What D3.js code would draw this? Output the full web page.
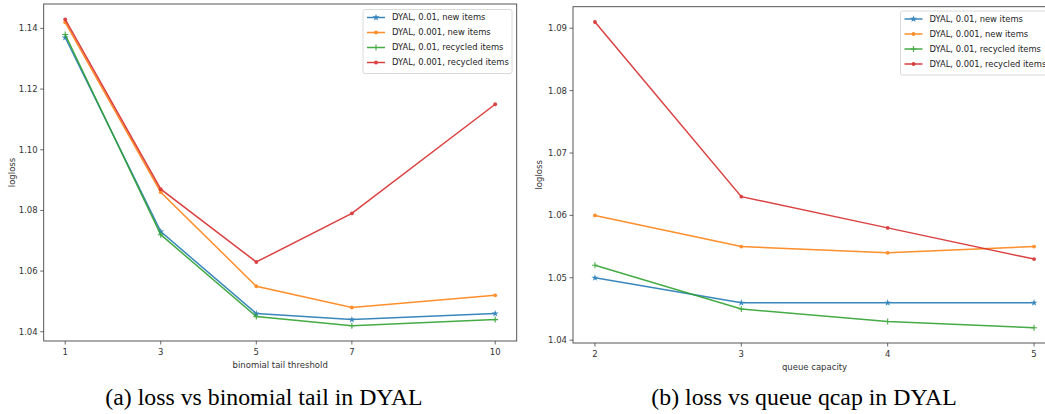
<!DOCTYPE html>
<html lang="en">
<head>
<meta charset="UTF-8">
<title>DYAL loss charts</title>
<script src="https://d3js.org/d3.v7.min.js"></script>
<style>
    body { margin: 0; background: #fff; }
    svg { display: block; }
    .tick-label { font-family: "DejaVu Sans", sans-serif; font-size: 8.5px; fill: #333; }
    .axis-label { font-family: "DejaVu Sans", sans-serif; font-size: 8.5px; fill: #333; }
    .legend-text { font-family: "DejaVu Sans", sans-serif; font-size: 8.4px; fill: #222; }
    .caption { font-family: "Liberation Serif", "Times New Roman", serif; font-size: 23.8px; fill: #000; }
</style>
</head>
<body>
<svg width="1045" height="414"></svg>
<script>
// series names and colours (matplotlib defaults)
const seriesNames = ["DYAL, 0.01, new items", "DYAL, 0.001, new items", "DYAL, 0.01, recycled items", "DYAL, 0.001, recycled items"];
const seriesColors = ["#1f77b4", "#ff7f0e", "#2ca02c", "#d62728"];
const seriesMarkers = ["star", "dot", "plus", "dot"];

// (a) binomial tail threshold
const tailX = [1, 3, 5, 7, 10];
const tailNew001 = [1.137, 1.073, 1.046, 1.044, 1.046];
const tailNew0001 = [1.142, 1.086, 1.055, 1.048, 1.052];
const tailRec001 = [1.138, 1.072, 1.045, 1.042, 1.044];
const tailRec0001 = [1.143, 1.087, 1.063, 1.079, 1.115];
const tailYTicks = [1.04, 1.06, 1.08, 1.10, 1.12, 1.14];

// (b) queue capacity
const qcapX = [2, 3, 4, 5];
const qcapNew001 = [1.050, 1.046, 1.046, 1.046];
const qcapNew0001 = [1.060, 1.055, 1.054, 1.055];
const qcapRec001 = [1.052, 1.045, 1.043, 1.042];
const qcapRec0001 = [1.091, 1.063, 1.058, 1.053];
const qcapYTicks = [1.04, 1.05, 1.06, 1.07, 1.08, 1.09];

const svg = d3.select("svg");

function drawMarker(g, type, color) {
    if (type === "star") {
        g.append("path")
            .attr("d", d3.symbol().type(d3.symbolStar).size(15)())
            .attr("fill", color);
    } else if (type === "plus") {
        g.append("path")
            .attr("d", "M-3,0H3M0,-3V3")
            .attr("stroke", color)
            .attr("stroke-width", 1.1);
    } else {
        g.append("circle").attr("r", 1.9).attr("fill", color);
    }
}

function drawPanel(opt) {
    const x = d3.scaleLinear().domain(opt.xDomain).range([opt.left, opt.right]);
    const y = d3.scaleLinear().domain(opt.yDomain).range([opt.bottom, opt.top]);
    const g = svg.append("g");

    // y ticks
    opt.yTicks.forEach(v => {
        g.append("line")
            .attr("x1", opt.left - 3.5).attr("x2", opt.left)
            .attr("y1", y(v)).attr("y2", y(v))
            .attr("stroke", "#444").attr("stroke-width", 0.8);
        g.append("text")
            .attr("class", "tick-label")
            .attr("x", opt.left - 6).attr("y", y(v))
            .attr("dy", "0.35em")
            .attr("text-anchor", "end")
            .text(v.toFixed(2));
    });

    // x ticks
    opt.xTicks.forEach(v => {
        g.append("line")
            .attr("x1", x(v)).attr("x2", x(v))
            .attr("y1", opt.bottom).attr("y2", opt.bottom + 3.5)
            .attr("stroke", "#444").attr("stroke-width", 0.8);
        g.append("text")
            .attr("class", "tick-label")
            .attr("x", x(v)).attr("y", opt.bottom + 14)
            .attr("text-anchor", "middle")
            .text(v);
    });

    // series lines and markers
    const line = d3.line().x(d => x(d[0])).y(d => y(d[1]));
    opt.series.forEach((vals, i) => {
        const pts = opt.xs.map((xv, j) => [xv, vals[j]]);
        const sg = g.append("g").attr("opacity", 0.88);
        sg.append("path")
            .datum(pts)
            .attr("d", line)
            .attr("fill", "none")
            .attr("stroke", seriesColors[i])
            .attr("stroke-width", 1.5);
        pts.forEach(p => {
            const m = sg.append("g").attr("transform", `translate(${x(p[0])},${y(p[1])})`);
            drawMarker(m, seriesMarkers[i], seriesColors[i]);
        });
    });

    // frame
    g.append("rect")
        .attr("x", opt.left).attr("y", opt.top)
        .attr("width", opt.right - opt.left).attr("height", opt.bottom - opt.top)
        .attr("fill", "none").attr("stroke", "#444").attr("stroke-width", 0.9);

    // axis labels
    g.append("text")
        .attr("class", "axis-label")
        .attr("x", (opt.left + opt.right) / 2)
        .attr("y", opt.bottom + 27)
        .attr("text-anchor", "middle")
        .text(opt.xLabel);
    g.append("text")
        .attr("class", "axis-label")
        .attr("transform", `translate(${opt.yLabelX},${(opt.top + opt.bottom) / 2}) rotate(-90)`)
        .attr("text-anchor", "middle")
        .attr("dy", "0.35em")
        .text("logloss");

    // legend
    const lg = g.append("g").attr("transform", `translate(${opt.legendX},${opt.legendY})`);
    lg.append("rect")
        .attr("width", 149).attr("height", 64)
        .attr("rx", 2)
        .attr("fill", "rgba(255,255,255,0.85)")
        .attr("stroke", "#d0d0d0").attr("stroke-width", 0.8);
    seriesNames.forEach((name, i) => {
        const ey = 8 + i * 15;
        const lgs = lg.append("g").attr("opacity", 0.88);
        lgs.append("line")
            .attr("x1", 4).attr("x2", 22)
            .attr("y1", ey).attr("y2", ey)
            .attr("stroke", seriesColors[i]).attr("stroke-width", 1.5);
        const m = lgs.append("g").attr("transform", `translate(13,${ey})`);
        drawMarker(m, seriesMarkers[i], seriesColors[i]);
        lg.append("text")
            .attr("class", "legend-text")
            .attr("x", 29).attr("y", ey)
            .attr("dy", "0.35em")
            .text(name);
    });

    // caption
    svg.append("text")
        .attr("class", "caption")
        .attr("x", opt.captionX).attr("y", 405)
        .attr("text-anchor", "middle")
        .text(opt.caption);
}

drawPanel({
    left: 43.7, right: 516.7, top: 4, bottom: 341,
    xDomain: [0.55, 10.45], yDomain: [1.03695, 1.14805],
    xs: tailX, xTicks: tailX, yTicks: tailYTicks,
    series: [tailNew001, tailNew0001, tailRec001, tailRec0001],
    xLabel: "binomial tail threshold",
    yLabelX: 12,
    legendX: 363, legendY: 9.5,
    caption: "(a) loss vs binomial tail in DYAL", captionX: 264
});

drawPanel({
    left: 573, right: 1056, top: 6.7, bottom: 343,
    xDomain: [1.85, 5.15], yDomain: [1.03955, 1.09345],
    xs: qcapX, xTicks: qcapX, yTicks: qcapYTicks,
    series: [qcapNew001, qcapNew0001, qcapRec001, qcapRec0001],
    xLabel: "queue capacity",
    yLabelX: 539,
    legendX: 900.5, legendY: 11,
    caption: "(b) loss vs queue qcap in DYAL", captionX: 804
});
</script>
</body>
</html>
